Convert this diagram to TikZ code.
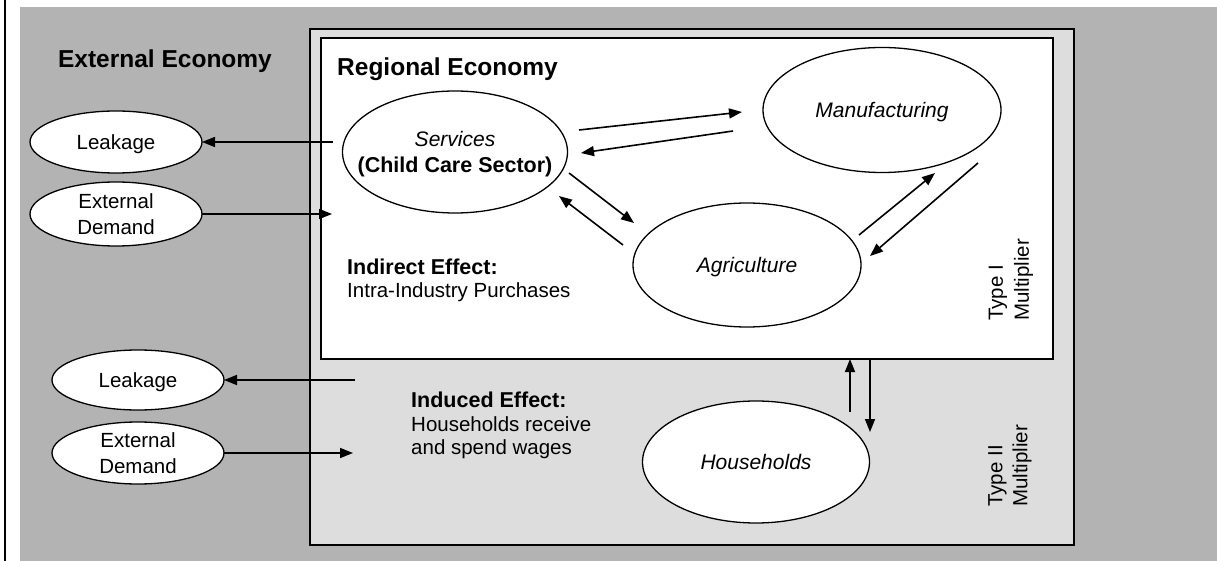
\documentclass[tikz,border=0pt]{standalone}
\usepackage{fontspec}
\setmainfont{Liberation Sans}
\usetikzlibrary{arrows.meta,shapes.geometric}
\definecolor{extgray}{HTML}{B3B3B3}
\definecolor{reggray}{HTML}{DDDDDD}
\begin{document}
\begin{tikzpicture}[x=1pt,y=-1pt,
  main node/.style={ellipse,draw=black,line width=1.3pt,fill=white,inner xsep=-35pt,inner ysep=-14pt,outer sep=0.,align=center,
    text depth=0pt,font=\fontsize{20.5}{26}\selectfont},
  flow/.style={-{Triangle[length=13pt,width=10pt]},line width=1.6pt},
  box/.style={draw=black,line width=2.2pt}]%
  \useasboundingbox (0,0) rectangle (1217,561);
  \fill[extgray] (20,7) rectangle (1217,561);
  \draw[line width=1.3pt] (5,0) -- (5,561);
  \draw[box,fill=reggray] (310,29) rectangle (1074,545);
  \draw[box,fill=white] (321,38) rectangle (1053,359);

  \node[font=\fontsize{24.5}{28}\selectfont\bfseries] (exttitle) at (165,61) {External Economy};
  \node[font=\fontsize{24.5}{28}\selectfont\bfseries,anchor=west,inner sep=0.] (regtitle) at (337,69) {Regional Economy};

  % external side
  \node[main node,minimum width=172pt,minimum height=62pt] (leak1) at (116,142) {Leakage};
  \node[main node,minimum width=172pt,minimum height=64pt] (dem1) at (116,214) {External\\Demand};
  \node[main node,minimum width=172pt,minimum height=60pt] (leak2) at (138,380) {Leakage};
  \node[main node,minimum width=172pt,minimum height=62pt] (dem2) at (138,453) {External\\Demand};

  % sectors
  \node[main node,minimum width=225pt,minimum height=122pt] (svc) at (455,152)
    {\fontsize{21}{26}\selectfont\itshape Services\\\fontsize{21.5}{26}\selectfont\bfseries (Child Care Sector)};
  \node[main node,minimum width=238pt,minimum height=125pt,font=\fontsize{21}{26}\selectfont\itshape] (mfg) at (882,110) {Manufacturing};
  \node[main node,minimum width=228pt,minimum height=124pt,font=\fontsize{21}{26}\selectfont\itshape] (agr) at (747,265) {Agriculture};
  \node[main node,minimum width=227pt,minimum height=122pt,font=\fontsize{21}{26}\selectfont\itshape] (hh) at (756,462) {Households};

  \node[anchor=north west,inner sep=0.,align=left,font=\fontsize{20.5}{23}\selectfont] (indirect) at (347,259)
    {{\fontsize{21.5}{23}\selectfont\bfseries Indirect Effect:}\\Intra-Industry Purchases};
  \node[anchor=north west,inner sep=0.,align=left,font=\fontsize{20.5}{23.5}\selectfont] (induced) at (411,392)
    {{\fontsize{21.5}{23.5}\selectfont\bfseries Induced Effect:}\\Households receive\\and spend wages};
  \node[rotate=90,anchor=west,inner sep=0.,align=left,font=\fontsize{20.5}{26}\selectfont] (type1) at (1011,321) {Type I\\Multiplier};
  \node[rotate=90,anchor=west,inner sep=0.,align=left,font=\fontsize{20.5}{25}\selectfont] (type2) at (1010,507) {Type II\\Multiplier};

  % free ends
  \coordinate (l1src) at (333,142);
  \coordinate (d1dst) at (332,214);
  \coordinate (l2src) at (355,380);
  \coordinate (d2dst) at (353,453);
  \coordinate (sm1) at (579,130); \coordinate (sm2) at (742,112);
  \coordinate (ms1) at (733,131); \coordinate (ms2) at (581,153);
  \coordinate (sa1) at (569,173); \coordinate (sa2) at (634,223);
  \coordinate (as1) at (623,245); \coordinate (as2) at (559,196);
  \coordinate (am1) at (859,235); \coordinate (am2) at (935,173);
  \coordinate (ma1) at (978,163); \coordinate (ma2) at (870,256);
  \coordinate (hu1) at (850,412); \coordinate (hu2) at (850,359);
  \coordinate (hd1) at (870,359); \coordinate (hd2) at (870,432);

  \draw[flow] (l1src) -- (leak1.east);
  \draw[flow] (dem1.east) -- (d1dst);
  \draw[flow] (l2src) -- (leak2.east);
  \draw[flow] (dem2.east) -- (d2dst);
  \foreach \a/\b in {sm1/sm2,ms1/ms2,sa1/sa2,as1/as2,am1/am2,ma1/ma2,hu1/hu2,hd1/hd2}
    \draw[flow] (\a) -- (\b);
\end{tikzpicture}
\end{document}
